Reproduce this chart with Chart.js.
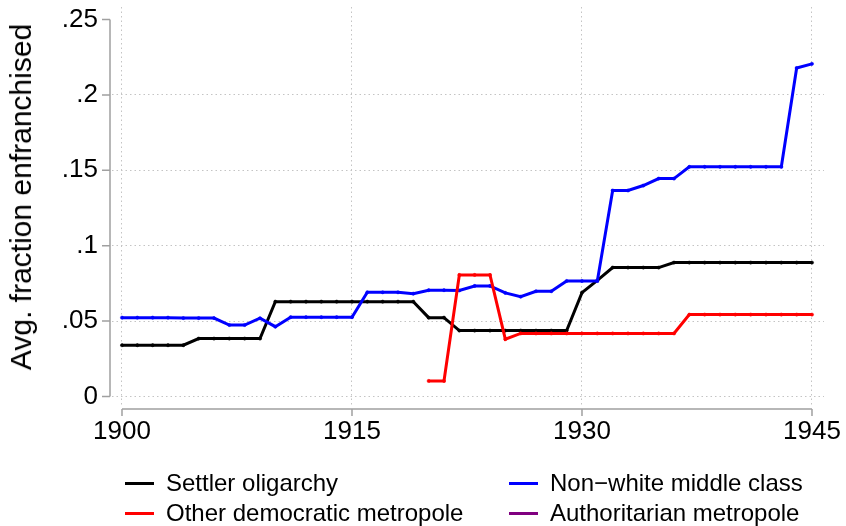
<!DOCTYPE html>
<html>
<head>
<meta charset="utf-8">
<script src="https://cdn.jsdelivr.net/npm/chart.js@4.4.1/dist/chart.umd.min.js"></script>
<style>
  html, body { margin: 0; padding: 0; background: #fff; }
  body {
    width: 846px;
    height: 526px;
    overflow: hidden;
    position: relative;
    font-family: "Liberation Sans", Arial, sans-serif;
    color: #000;
  }
  #chart { position: absolute; left: 0; top: 0; }
  #yTitle {
    position: absolute;
    left: 21px;
    top: 197px;
    transform: translate(-50%, -50%) rotate(-90deg);
    font-size: 30px;
    white-space: nowrap;
  }
  .item {
    position: absolute;
    display: flex;
    align-items: center;
    height: 30px;
    font-size: 24px;
    white-space: nowrap;
  }
  .swatch { width: 29px; height: 3px; margin-right: 12px; }
</style>
</head>
<body>
<canvas id="chart" width="846" height="526"></canvas>
<div id="yTitle">Avg. fraction enfranchised</div>
<div id="legend"></div>
<script>
  // years on the x axis
  const years = [
    1900, 1901, 1902, 1903, 1904, 1905, 1906, 1907, 1908, 1909,
    1910, 1911, 1912, 1913, 1914, 1915, 1916, 1917, 1918, 1919,
    1920, 1921, 1922, 1923, 1924, 1925, 1926, 1927, 1928, 1929,
    1930, 1931, 1932, 1933, 1934, 1935, 1936, 1937, 1938, 1939,
    1940, 1941, 1942, 1943, 1944, 1945
  ];

  const settlerOligarchy = [
    0.034, 0.034, 0.034, 0.034, 0.034, 0.0384, 0.0384, 0.0384, 0.0384, 0.0384,
    0.0629, 0.0629, 0.0629, 0.0629, 0.0629, 0.0629, 0.0629, 0.0629, 0.0629, 0.0629,
    0.0523, 0.0523, 0.0437, 0.0437, 0.0437, 0.0437, 0.0437, 0.0437, 0.0437, 0.0437,
    0.0689, 0.077, 0.0855, 0.0855, 0.0855, 0.0855, 0.0888, 0.0888, 0.0888, 0.0888,
    0.0888, 0.0888, 0.0888, 0.0888, 0.0888, 0.0888
  ];

  const nonWhiteMiddleClass = [
    0.0523, 0.0523, 0.0523, 0.0523, 0.052, 0.052, 0.052, 0.0474, 0.0474, 0.0519,
    0.0463, 0.0526, 0.0526, 0.0526, 0.0526, 0.0526, 0.0691, 0.0691, 0.0691, 0.0682,
    0.0705, 0.0705, 0.0703, 0.0733, 0.0733, 0.0687, 0.0662, 0.0698, 0.0698, 0.0766,
    0.0766, 0.0766, 0.1366, 0.1366, 0.1399, 0.1445, 0.1445, 0.1523, 0.1523, 0.1523,
    0.1523, 0.1523, 0.1523, 0.1523, 0.2178, 0.2206
  ];

  const otherDemocraticMetropole = [
    null, null, null, null, null, null, null, null, null, null,
    null, null, null, null, null, null, null, null, null, null,
    0.0103, 0.0103, 0.0806, 0.0806, 0.0806, 0.038, 0.0418, 0.0418, 0.0418, 0.0418,
    0.0418, 0.0418, 0.0418, 0.0418, 0.0418, 0.0418, 0.0418, 0.0543, 0.0543, 0.0543,
    0.0543, 0.0543, 0.0543, 0.0543, 0.0543, 0.0543
  ];

  const authoritarianMetropole = years.map(() => null);

  const xTicks = [1900, 1915, 1930, 1945];
  const yTicks = [0, 0.05, 0.1, 0.15, 0.2, 0.25];
  const yTickLabels = ["0", ".05", ".1", ".15", ".2", ".25"];

  const series = [
    { label: "Settler oligarchy", values: settlerOligarchy, color: "#000000", order: 3 },
    { label: "Non\u2212white middle class", values: nonWhiteMiddleClass, color: "#0000ff", order: 2 },
    { label: "Other democratic metropole", values: otherDemocraticMetropole, color: "#ff0000", order: 1 },
    { label: "Authoritarian metropole", values: authoritarianMetropole, color: "#800080", order: 0 }
  ];

  const tickFont = { family: "'Liberation Sans', Arial, sans-serif", size: 26 };
  const gridColor = "#c4c4c4";
  const axisColor = "#a0a0a0";

  // Stata style axes: drawn a little away from the plot region, only over the tick range
  const offsetAxes = {
    id: "offsetAxes",
    afterDraw(chart) {
      const { ctx, chartArea, scales } = chart;
      const x = scales.x;
      const y = scales.y;
      const axisX = chartArea.left - 2;
      const axisY = chartArea.bottom + 4;

      ctx.save();
      ctx.strokeStyle = axisColor;
      ctx.lineWidth = 1.5;
      ctx.beginPath();
      ctx.moveTo(axisX, y.getPixelForValue(yTicks[yTicks.length - 1]));
      ctx.lineTo(axisX, y.getPixelForValue(yTicks[0]));
      yTicks.forEach((v) => {
        const py = y.getPixelForValue(v);
        ctx.moveTo(axisX - 8, py);
        ctx.lineTo(axisX, py);
      });
      ctx.moveTo(x.getPixelForValue(xTicks[0]), axisY);
      ctx.lineTo(x.getPixelForValue(xTicks[xTicks.length - 1]), axisY);
      xTicks.forEach((v) => {
        const px = x.getPixelForValue(v);
        ctx.moveTo(px, axisY);
        ctx.lineTo(px, axisY + 7);
      });
      ctx.stroke();
      ctx.restore();
    }
  };

  // keep the plot region fixed: no extra room for overhanging tick labels
  function noLabelPadding(scale) {
    scale.paddingTop = 0;
    scale.paddingBottom = 0;
    scale.paddingLeft = 0;
    scale.paddingRight = 0;
  }

  const datasets = series.map((s) => ({
    label: s.label,
    data: years.map((yr, i) => ({ x: yr, y: s.values[i] })),
    borderColor: s.color,
    backgroundColor: s.color,
    pointBackgroundColor: s.color,
    pointBorderColor: s.color,
    pointRadius: 1.6,
    pointBorderWidth: 0.5,
    borderWidth: 3,
    tension: 0,
    spanGaps: false,
    order: s.order
  }));

  new Chart(document.getElementById("chart"), {
    type: "line",
    data: { datasets },
    options: {
      responsive: false,
      animation: false,
      devicePixelRatio: 1,
      layout: { padding: { top: 7, right: 22, bottom: 61, left: 0 } },
      plugins: {
        legend: { display: false },
        tooltip: { enabled: false }
      },
      scales: {
        x: {
          type: "linear",
          min: 1899.348,
          max: 1945.783,
          afterBuildTicks: (scale) => {
            scale.ticks = xTicks.map((v) => ({ value: v }));
          },
          afterFit: (scale) => {
            scale.height = 60;
            noLabelPadding(scale);
          },
          grid: { color: gridColor, lineWidth: 1, drawTicks: false },
          border: { display: false, dash: [1.5, 3] },
          ticks: {
            padding: 11,
            color: "#000",
            font: tickFont,
            maxRotation: 0,
            autoSkip: false,
            callback: (value) => String(value)
          }
        },
        y: {
          type: "linear",
          min: -0.00564,
          max: 0.25829,
          afterBuildTicks: (scale) => {
            scale.ticks = yTicks.map((v) => ({ value: v }));
          },
          afterFit: (scale) => {
            scale.width = 112;
            noLabelPadding(scale);
          },
          grid: {
            color: (c) => (c.tick && c.tick.value === 0.25 ? "rgba(0,0,0,0)" : gridColor),
            lineWidth: 1,
            drawTicks: false
          },
          border: { display: false, dash: [1.5, 3] },
          ticks: {
            padding: 14,
            color: "#000",
            font: tickFont,
            autoSkip: false,
            callback: (value) => {
              const i = yTicks.findIndex((t) => Math.abs(t - value) < 1e-9);
              return i >= 0 ? yTickLabels[i] : "";
            }
          }
        }
      }
    },
    plugins: [offsetAxes]
  });

  // legend: two columns, filled row by row
  const legend = document.getElementById("legend");
  const colLeft = [125, 509];
  const rowTop = [468, 498];
  series.forEach((s, i) => {
    const item = document.createElement("div");
    item.className = "item";
    item.style.left = colLeft[i % 2] + "px";
    item.style.top = rowTop[Math.floor(i / 2)] + "px";
    const swatch = document.createElement("span");
    swatch.className = "swatch";
    swatch.style.background = s.color;
    const text = document.createElement("span");
    text.textContent = s.label;
    item.appendChild(swatch);
    item.appendChild(text);
    legend.appendChild(item);
  });
</script>
</body>
</html>
